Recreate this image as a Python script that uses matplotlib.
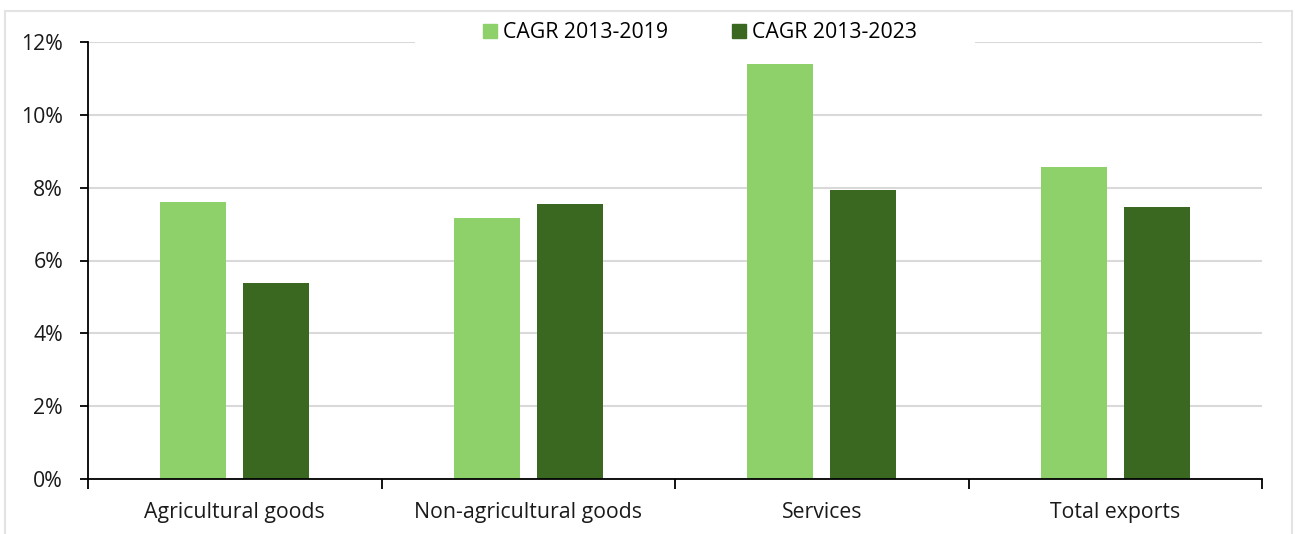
import matplotlib.pyplot as plt
import numpy as np
from matplotlib.patches import Rectangle, Patch
from matplotlib.ticker import FuncFormatter

plt.rcParams['font.family'] = ['Open Sans', 'DejaVu Sans']

categories = ['Agricultural goods', 'Non-agricultural goods', 'Services', 'Total exports']
cagr_2019 = [7.60, 7.16, 11.39, 8.56]
cagr_2023 = [5.37, 7.55, 7.94, 7.47]
series_labels = ['CAGR 2013-2019', 'CAGR 2013-2023']
colors = ['#8ed16b', '#3a6821']

W, H = 1295, 534
fig = plt.figure(figsize=(W / 100, H / 100), dpi=100)
ax = fig.add_axes([88 / W, 1 - 479 / H, (1262 - 88) / W, (479 - 42) / H])

x = np.arange(len(categories))
w = 0.225
off = 0.1415
ax.bar(x - off, cagr_2019, w, color=colors[0], zorder=3)
ax.bar(x + off, cagr_2023, w, color=colors[1], zorder=3)

ax.set_xlim(-0.5, len(categories) - 0.5)
ax.set_ylim(0, 12)
ax.set_yticks(range(0, 13, 2))
ax.yaxis.set_major_formatter(FuncFormatter(lambda v, _: f'{v:.0f}%'))
ax.set_xticks(x)
ax.set_xticklabels(categories)
ax.set_xticks(np.arange(-0.5, len(categories)), minor=True)
ax.tick_params(axis='x', which='major', length=0, pad=16.5, labelsize=15.3)
ax.tick_params(axis='x', which='minor', length=7, width=1.3, direction='out')
ax.tick_params(axis='y', length=6, width=1.3, pad=12, labelsize=15.3)
ax.tick_params(axis='both', colors='black', labelcolor='#1a1a1a')

ax.grid(axis='y', color='#d9d9d9', linewidth=1.5, zorder=0)
for s in ['top', 'right']:
    ax.spines[s].set_visible(False)
ax.spines['left'].set_linewidth(1.3)
ax.spines['bottom'].set_linewidth(1.3)
ax.spines['bottom'].set_zorder(4)

# white band behind the legend, cutting the top gridline
fig.patches.append(Rectangle((415 / W, 1 - 52 / H), (975 - 415) / W, 38 / H,
                             transform=fig.transFigure, facecolor='white',
                             edgecolor='none', zorder=5))

handles = [Patch(color=c, label=l) for c, l in zip(colors, series_labels)]
leg = fig.legend(handles=handles, loc='center', bbox_to_anchor=(700 / W, 1 - 33 / H),
                 ncol=2, frameon=False, fontsize=15.3, handlelength=0.65, handleheight=0.65,
                 handletextpad=0.3, columnspacing=3.0)
leg.set_zorder(6)

# light outer frame around the chart
fig.patches.append(Rectangle((5 / W, -0.05), (1292 - 5) / W, 1.05 - 11 / H,
                             transform=fig.transFigure, fill=False,
                             edgecolor='#e3e3e3', linewidth=1.5))

fig.savefig('out.png', dpi=100)
